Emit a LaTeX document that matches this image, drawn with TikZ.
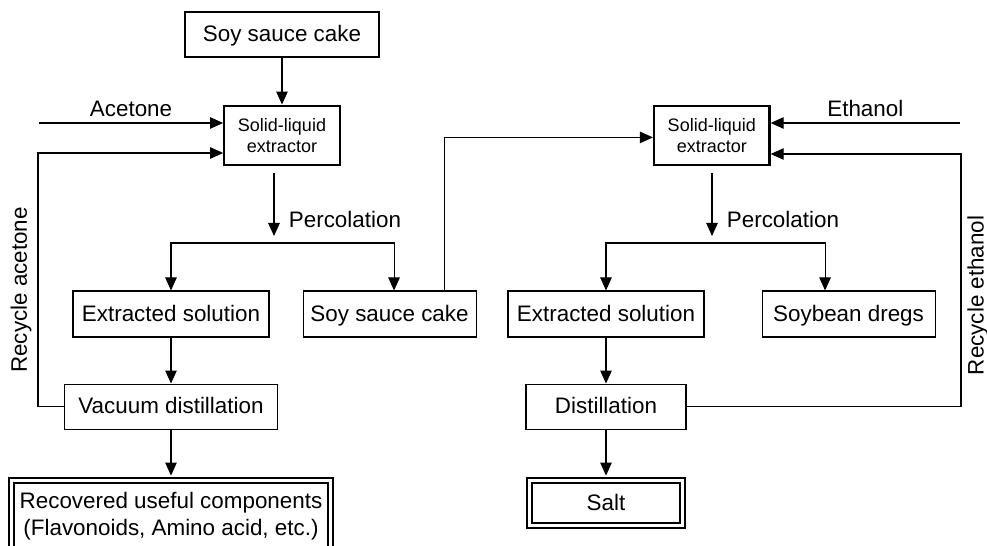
\documentclass[tikz,border=0pt]{standalone}
\usepackage{fontspec}
\setmainfont{Liberation Sans}
\usetikzlibrary{arrows.meta,positioning}

\begin{document}
\begin{tikzpicture}[
 font=\fontsize{12.75}{15.3}\selectfont,
 line width=0.6pt,
 box/.style={draw,align=center,inner sep=0pt,minimum height=9.2mm,line width=0.6pt},
 single/.style={box,text height=9.6pt,text depth=1.2pt},
 extractor/.style={box,line width=1.3pt,minimum width=23.1mm,minimum height=11.9mm,font=\fontsize{10.25}{12}\selectfont},
 final/.style={box,double,double distance=0.55mm,line width=0.42mm},
 arrow/.style={-{Triangle[length=2.6mm,width=2.3mm]},line width=0.6pt}
]
\useasboundingbox (0,0) rectangle (197.4mm,-109.2mm);
% acetone line
\node[single,minimum width=38.8mm,minimum height=9mm] (feed) at (56.4mm,-6.9mm) {Soy sauce cake};
\node[extractor,below=9.4mm of feed] (extA) {Solid-liquid\\extractor};
\node[single,minimum width=39.2mm] (solA) at (34.2mm,-62.8mm) {Extracted solution};
\node[single,minimum width=34.6mm,right=6.6mm of solA] (cakeA) {Soy sauce cake};
\node[single,minimum width=42.6mm,minimum height=9mm,below=9.2mm of solA] (vacA) {Vacuum distillation};
\node[final,minimum width=63.8mm,minimum height=14.4mm,below=9.9mm of vacA] (recA) {Recovered useful components\\(Flavonoids, Amino acid, etc.)};
% ethanol line
\node[extractor,right=62.4mm of extA] (extE) {Solid-liquid\\extractor};
\node[single,minimum width=39.2mm] (solE) at (121.2mm,-62.8mm) {Extracted solution};
\node[single,minimum width=34.6mm,right=11.4mm of solE] (dregsE) {Soybean dregs};
\node[single,minimum width=32mm,minimum height=9mm,below=9.2mm of solE] (distE) {Distillation};
\node[single,final,minimum width=30.6mm,minimum height=9mm,below=9.9mm of distE] (saltE) {Salt};
\coordinate (acIn) at (7.8mm,-24.6mm);
\coordinate (acBack) at (7.6mm,-30.6mm);
\coordinate (etIn) at (192mm,-24.6mm);
\coordinate (etBack) at (192.2mm,-30.8mm);
\coordinate (forkA) at (54.8mm,-48.6mm);
\coordinate (forkE) at (142.4mm,-48.6mm);
\draw[arrow] (feed) -- (extA);
\draw[arrow] (acIn) -- node[above]{Acetone} (acIn -| extA.west);
\draw[arrow] (vacA.west) -| node[pos=0.73,above,sloped]{Recycle acetone} (acBack) -- (acBack -| extA.west);
\draw[arrow] ([yshift=-1.4mm]extA.south -| forkA) -- node[pos=0.73,right=1.7mm]{Percolation} ([yshift=1.4mm]forkA);
\draw[arrow] (forkA) -| (solA.north);
\draw[arrow] (forkA) -| ([xshift=0.9mm]cakeA.north);
\draw[arrow] ([xshift=11mm]cakeA.north) |- ([yshift=-0.4mm]extE.west);
\draw[arrow] (solA) -- (vacA);
\draw[arrow,shorten >=0.7mm] (vacA) -- (recA);
\draw[arrow] (etIn) -- node[above]{Ethanol} (etIn -| extE.east);
\draw[arrow] (distE.east) -| node[pos=0.72,below,sloped]{Recycle ethanol} (etBack) -- (etBack -| extE.east);
\draw[arrow] ([yshift=-1.4mm]extE.south -| forkE) -- node[pos=0.73,right=1.7mm]{Percolation} ([yshift=1.4mm]forkE);
\draw[arrow] (forkE) -| (solE.north);
\draw[arrow] (forkE) -| ([xshift=-4.7mm]dregsE.north);
\draw[arrow] (solE) -- (distE);
\draw[arrow,shorten >=0.7mm] (distE) -- (saltE);
\end{tikzpicture}
\end{document}
